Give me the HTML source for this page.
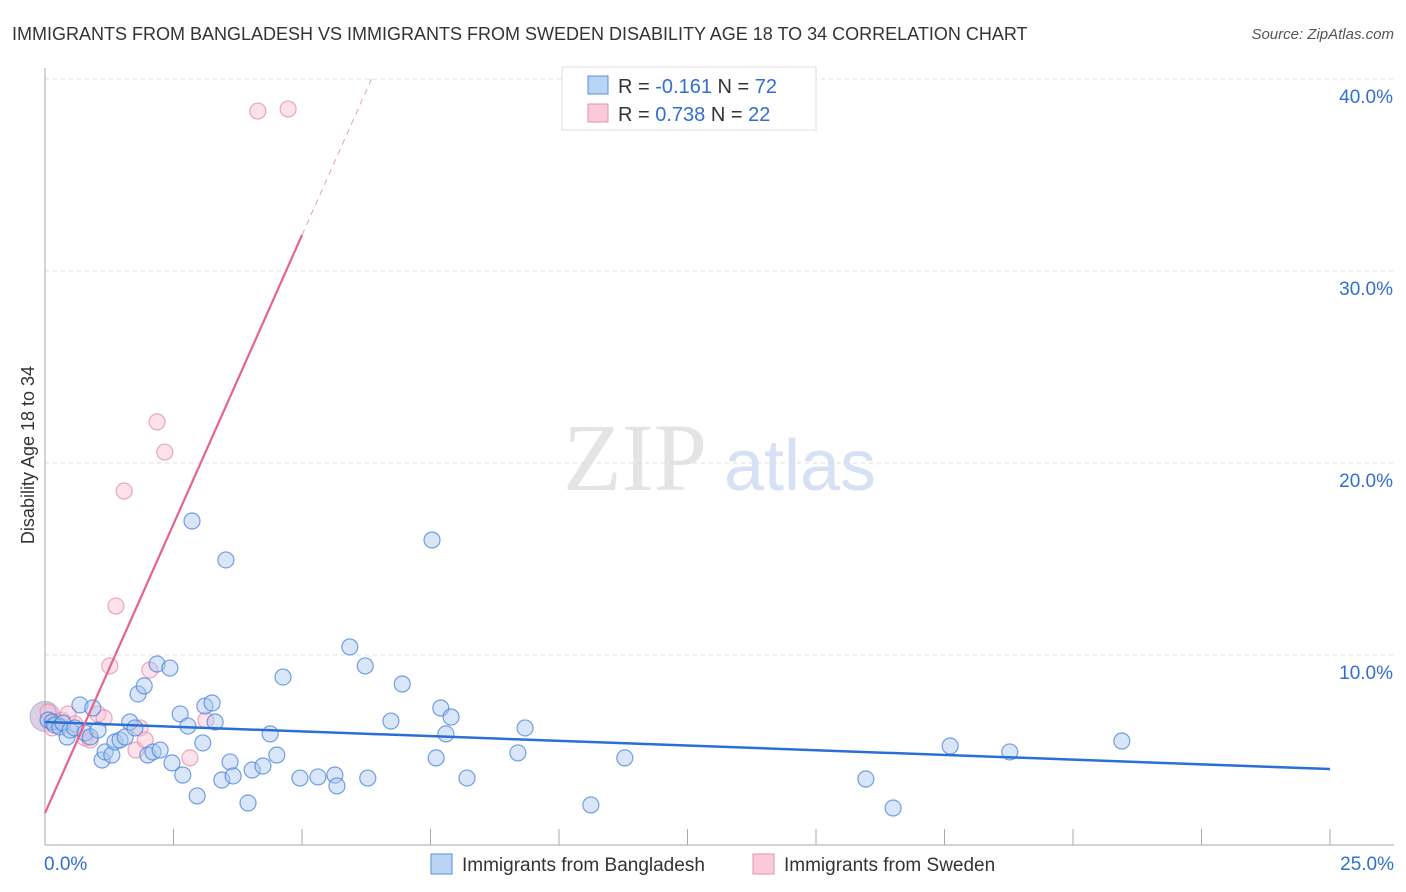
<!DOCTYPE html>
<html><head><meta charset="utf-8"><style>
body{margin:0;background:#fff;font-family:"Liberation Sans",sans-serif;}
svg{display:block}
</style></head><body>
<svg id="chart" width="1406" height="892" xmlns="http://www.w3.org/2000/svg">
<text x="12" y="40" font-size="18" fill="#333">IMMIGRANTS FROM BANGLADESH VS IMMIGRANTS FROM SWEDEN DISABILITY AGE 18 TO 34 CORRELATION CHART</text>
<text x="1394" y="39" font-size="15" fill="#555" font-style="italic" text-anchor="end">Source: ZipAtlas.com</text>
<text x="635" y="490" font-size="96" fill="#e4e4e4" font-family="Liberation Serif,serif" text-anchor="middle">ZIP</text>
<text x="800" y="490" font-size="72" fill="#d6e2f4" text-anchor="middle">atlas</text>
<g id="grid"></g>
<g id="axes"></g>
<g id="marks"></g>
<text transform="translate(34,455) rotate(-90)" font-size="18" fill="#333" text-anchor="middle">Disability Age 18 to 34</text>
<g>
<rect x="562" y="67" width="254" height="63" fill="#fff" stroke="#ddd"/>
<rect x="588" y="76" width="20" height="18" fill="#b9d3f5" stroke="#5b8fd8"/>
<rect x="588" y="104" width="20" height="18" fill="#f9cbda" stroke="#e792ad"/>
<text x="618" y="93" font-size="20" fill="#333">R = <tspan fill="#2f6fd0">-0.161</tspan>   N = <tspan fill="#2f6fd0">72</tspan></text>
<text x="618" y="121" font-size="20" fill="#333">R = <tspan fill="#2f6fd0"> 0.738</tspan>   N = <tspan fill="#2f6fd0">22</tspan></text>
</g>
<g>
<rect x="431" y="854" width="21" height="20" fill="#b9d3f5" stroke="#5b8fd8"/>
<text x="462" y="871" font-size="19" fill="#333">Immigrants from Bangladesh</text>
<rect x="753" y="854" width="21" height="20" fill="#f9cbda" stroke="#e792ad"/>
<text x="784" y="871" font-size="19" fill="#333">Immigrants from Sweden</text>
</g>
</svg>
<script>
const xTicks=[0,25];
const yTicks=[10,20,30,40];
const blueX=[0.06,0.14,0.19,0.29,0.35,0.43,0.49,0.58,0.68,0.78,0.88,0.93,1.03,1.11,1.17,1.30,1.36,1.46,1.56,1.65,1.75,1.81,1.93,2.00,2.10,2.18,2.24,2.43,2.47,2.63,2.68,2.78,2.86,2.96,3.07,3.11,3.25,3.31,3.44,3.52,3.60,3.66,3.95,4.03,4.24,4.38,4.51,4.63,4.96,5.31,5.64,5.68,5.93,6.23,6.28,6.73,6.95,7.53,7.61,7.70,7.80,7.90,8.21,9.20,9.34,10.62,11.28,15.97,16.50,17.61,18.77,20.95];
const blueY=[6.61,6.51,6.35,6.25,6.46,5.73,6.09,6.20,7.40,5.94,5.73,7.24,6.09,4.53,4.95,4.79,5.47,5.57,5.73,6.51,6.20,7.97,8.39,4.79,4.95,9.53,5.05,9.32,4.38,6.93,3.75,6.30,16.98,2.66,5.42,7.34,7.50,6.51,3.49,14.95,4.43,3.70,2.29,4.01,4.22,5.89,4.79,8.85,3.59,3.65,3.75,3.18,10.42,9.43,3.59,6.56,8.49,15.99,4.64,7.24,5.89,6.77,3.59,4.90,6.20,2.19,4.64,3.54,2.03,5.26,4.95,5.52];
const pinkX=[0.06,0.14,0.23,0.33,0.45,0.58,0.78,0.88,1.03,1.15,1.26,1.38,1.54,1.77,1.85,1.95,2.04,2.18,2.33,2.82,3.13,4.14,4.73];
const pinkY=[7.03,6.20,6.51,6.61,6.93,6.41,5.68,5.57,6.93,6.72,9.43,12.55,18.54,5.05,6.20,5.57,9.22,22.14,20.57,4.64,6.61,38.33,38.44];
const blueTrend=[6.51,4.06];
const pinkTrend=[1.77,6.02];
const X0=45,X1=1330,YB=847,PX=192/10;
const sx=v=>X0+(v/25)*(X1-X0);
const sy=v=>YB-v*PX;
const NS='http://www.w3.org/2000/svg';
function mk(tag,attrs,parent){const e=document.createElementNS(NS,tag);for(const k in attrs)e.setAttribute(k,attrs[k]);document.getElementById(parent).appendChild(e);return e;}
yTicks.forEach(t=>{
 const g=mk('line',{x1:X0,x2:1394,y1:sy(t),y2:sy(t),stroke:'#ddd','stroke-dasharray':'4,4'},'grid');
 
 
 const l=mk('text',{x:1393,y:sy(t)+24,'font-size':19,fill:'#2f6fd0','text-anchor':'end'},'grid');
 l.textContent=t.toFixed(1)+'%';
 
 
});
const ax=mk('line',{x1:X0,x2:X0,y1:68,y2:845,stroke:'#aaa'},'axes');


const bx=mk('line',{x1:X0,x2:1394,y1:845,y2:845,stroke:'#aaa'},'axes');


for(let i=0;i<=10;i++){const t=mk('line',{x1:sx(i*2.5),x2:sx(i*2.5),y1:829,y2:845,stroke:'#aaa'},'axes');
 
 }
xTicks.forEach((t,i)=>{const l=mk('text',{x:i==0?44:1394,y:870,'font-size':19,fill:'#2f6fd0','text-anchor':i==0?'start':'end'},'axes');
 l.textContent=t.toFixed(1)+'%';
 
 });
const big=mk('circle',{cx:sx(0),cy:sy(6.8),r:15,fill:'rgba(170,150,200,0.45)',stroke:'rgba(160,140,190,0.6)'},'marks');


pinkX.forEach((x,i)=>{const c=mk('circle',{cx:sx(x),cy:sy(pinkY[i]),r:8,fill:'rgba(249,190,210,0.45)',stroke:'rgba(231,130,165,0.7)','stroke-width':1.2},'marks');
 
 });
blueX.forEach((x,i)=>{const c=mk('circle',{cx:sx(x),cy:sy(blueY[i]),r:8,fill:'rgba(170,200,240,0.45)',stroke:'rgba(70,130,220,0.75)','stroke-width':1.2},'marks');
 
 });
const bl=mk('line',{x1:sx(0),y1:sy(blueTrend[0]),x2:sx(25),y2:sy(blueTrend[1]),stroke:'#2a6fd6','stroke-width':2.5},'marks');


const pe=5.0,pd=(40-pinkTrend[0])/pinkTrend[1];
const pl=mk('line',{x1:sx(0),y1:sy(pinkTrend[0]),x2:sx(pe),y2:sy(pinkTrend[0]+pinkTrend[1]*pe),stroke:'#e5638f','stroke-width':2.2},'marks');


const pdl=mk('line',{x1:sx(pe),y1:sy(pinkTrend[0]+pinkTrend[1]*pe),x2:sx(pd),y2:sy(40),stroke:'#e5a0b8','stroke-width':1,'stroke-dasharray':'6,5'},'marks');


</script>
</body></html>
